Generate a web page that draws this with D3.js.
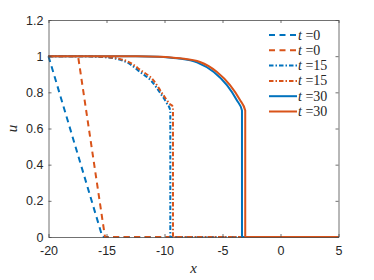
<!DOCTYPE html>
<html>
<head>
<meta charset="utf-8">
<script src="https://cdn.jsdelivr.net/npm/d3@7"></script>
<style>
  body { margin: 0; background: #fff; }
  svg { display: block; }
</style>
</head>
<body>
<div id="chart"></div>
<script>
// front profiles
var x0a = [-20, -15.35, 5];
var u0a = [1, 0, 0];
var x0b = [-20, -17.45, -15.13, 5];
var u0b = [1, 1, 0, 0];

var x15a = [-20, -17.5, -15.8, -14.1, -13, -12.2, -11.1, -10.3, -9.8, -9.5, -9.499, 5];
var u15a = [1, 1, 0.997, 0.985, 0.957, 0.917, 0.86, 0.79, 0.74, 0.70, 0, 0];
var x15b = [-20, -17.3, -15.6, -13.9, -12.9, -12.11, -10.97, -10.1, -9.53, -9.27, -9.269, 5];
var u15b = [1, 1, 0.997, 0.985, 0.962, 0.925, 0.868, 0.785, 0.735, 0.72, 0, 0];

var x30a = [-20, -12.5, -10.6, -8.9, -7.2, -5.75, -4.6, -3.75, -3.32, -3.319, 5];
var u30a = [1, 1, 0.997, 0.988, 0.966, 0.912, 0.838, 0.755, 0.70, 0, 0];
var x30b = [-20, -12.3, -10.4, -8.66, -6.94, -5.5, -4.35, -3.49, -3.04, -3.039, 5];
var u30b = [1, 1, 0.997, 0.988, 0.968, 0.914, 0.840, 0.758, 0.70, 0, 0];

var xTicks = [-20, -15, -10, -5, 0, 5];
var yTicks = [0, 0.2, 0.4, 0.6, 0.8, 1, 1.2];
var labels = ["0", "0", "15", "15", "30", "30"];

var blue = "#0072BD", orange = "#D95319";
var dashed = "6,4.5", dashdot = "4.5,2,1.5,2";
var series = [
  {x: x0a, u: u0a, c: blue, dash: dashed, smooth: false},
  {x: x0b, u: u0b, c: orange, dash: dashed, smooth: false},
  {x: x15a, u: u15a, c: blue, dash: dashdot, smooth: true},
  {x: x15b, u: u15b, c: orange, dash: dashdot, smooth: true},
  {x: x30a, u: u30a, c: blue, dash: null, smooth: true},
  {x: x30b, u: u30b, c: orange, dash: null, smooth: true}
];

var W = 374, H = 280;
var margin = {top: 20, right: 35.5, bottom: 43, left: 48.5}
  , width = W - margin.left - margin.right
  , height = H - margin.top - margin.bottom;

var xScale = d3.scaleLinear().domain([-20, 5]).range([0, width]);
var yScale = d3.scaleLinear().domain([0, 1.2]).range([height, 0]);

var svg = d3.select("#chart").append("svg")
    .attr("width", W)
    .attr("height", H);
var g = svg.append("g")
    .attr("transform", "translate(" + margin.left + "," + margin.top + ")");

var line = d3.line()
    .x(function(d) { return xScale(d[0]); })
    .y(function(d) { return yScale(d[1]); });

var plot = g.append("g");
series.forEach(function(s) {
  var pts = s.x.map(function(v, i) { return [v, s.u[i]]; });
  line.curve(s.smooth ? d3.curveMonotoneX : d3.curveLinear);
  plot.append("path")
      .datum(pts)
      .attr("d", line)
      .attr("fill", "none")
      .attr("stroke", s.c)
      .attr("stroke-width", 2)
      .attr("stroke-dasharray", s.dash);
});

function styleAxis(sel) {
  sel.selectAll(".domain").attr("stroke", "#4d4d4d").attr("stroke-width", 0.8);
  sel.selectAll(".tick line").attr("stroke", "#4d4d4d").attr("stroke-width", 0.8);
  sel.selectAll("text")
     .attr("fill", "#262626")
     .style("font-family", "'Liberation Sans', Arial, sans-serif")
     .style("font-size", "12.5px");
}

var fmt = function(d) { return String(d); };

g.append("g")
    .attr("transform", "translate(0," + height + ")")
    .call(d3.axisBottom(xScale).tickValues(xTicks).tickFormat(fmt).tickSizeInner(-3).tickSizeOuter(0).tickPadding(9))
    .call(styleAxis);
g.append("g")
    .call(d3.axisTop(xScale).tickValues(xTicks).tickFormat("").tickSizeInner(-3).tickSizeOuter(0))
    .call(styleAxis);
g.append("g")
    .call(d3.axisLeft(yScale).tickValues(yTicks).tickFormat(fmt).tickSizeInner(-3).tickSizeOuter(0).tickPadding(5))
    .call(styleAxis);
g.append("g")
    .attr("transform", "translate(" + width + ",0)")
    .call(d3.axisRight(yScale).tickValues(yTicks).tickFormat("").tickSizeInner(-3).tickSizeOuter(0))
    .call(styleAxis);

// axis labels
var serif = "'Liberation Serif', 'DejaVu Serif', serif";
svg.append("text")
    .attr("x", margin.left + width / 2)
    .attr("y", 273)
    .attr("text-anchor", "middle")
    .style("font-family", serif).style("font-style", "italic").style("font-size", "15px")
    .attr("fill", "#262626")
    .text("x");
svg.append("text")
    .attr("transform", "translate(17," + (margin.top + height / 2) + ") rotate(-90)")
    .attr("text-anchor", "middle")
    .style("font-family", serif).style("font-style", "italic").style("font-size", "15px")
    .attr("fill", "#262626")
    .text("u");

// legend
var leg = svg.append("g").attr("transform", "translate(269,35)");
series.forEach(function(s, i) {
  var row = leg.append("g").attr("transform", "translate(0," + (i * 15.3) + ")");
  row.append("line")
      .attr("x1", 0).attr("x2", 28)
      .attr("stroke", s.c).attr("stroke-width", 2)
      .attr("stroke-dasharray", s.dash);
  var t = row.append("text")
      .attr("x", 29).attr("y", 4.5)
      .style("font-family", serif).style("font-size", "14px")
      .attr("fill", "#262626");
  t.append("tspan").style("font-style", "italic").text("t");
  t.append("tspan").text(" =" + labels[i]);
});
</script>
</body>
</html>
